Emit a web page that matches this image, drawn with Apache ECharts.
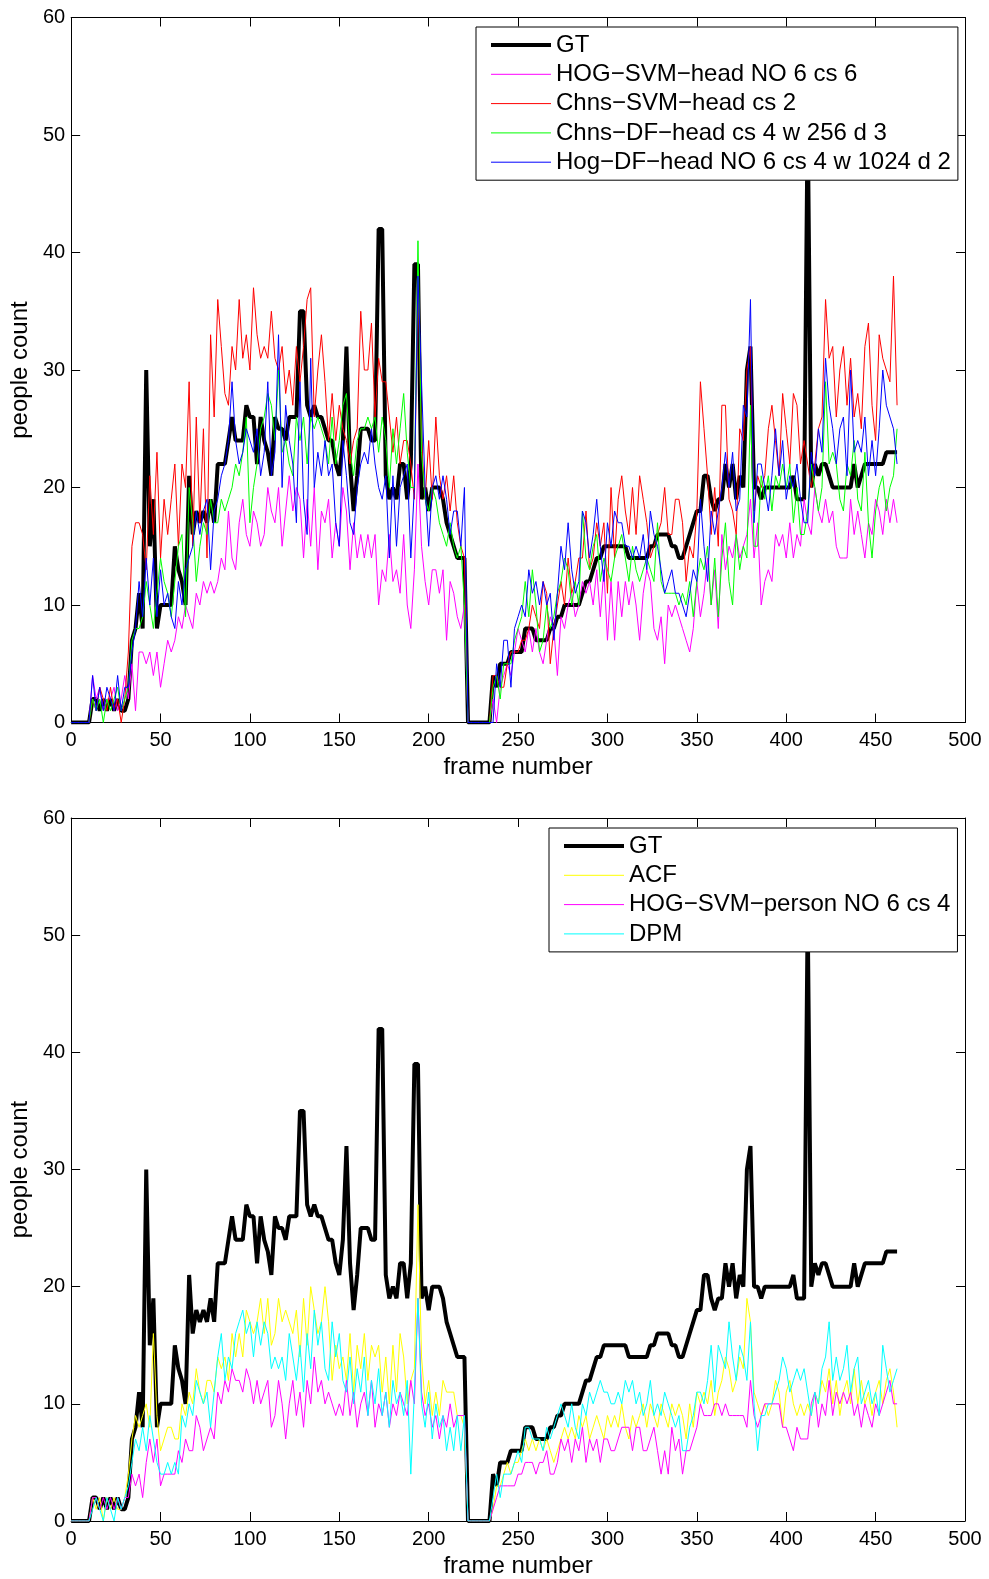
<!DOCTYPE html>
<html>
<head>
<meta charset="utf-8">
<script src="https://cdn.jsdelivr.net/npm/echarts@6/dist/echarts.min.js"></script>
<style>
html,body{margin:0;padding:0;background:#fff;}
#c{width:989px;height:1579px;}
</style>
</head>
<body>
<div id="c"></div>
<script>
// x grid: frame numbers sampled every 2 frames (0..462)
const frames = [];
for (let f = 0; f <= 462; f += 2) frames.push(f);

const xTicks = [0, 50, 100, 150, 200, 250, 300, 350, 400, 450, 500];
const yTicks = [0, 10, 20, 30, 40, 50, 60];

// Ground truth (same in both panels)
const gt = [
 0,0,0,0,0,0,
 2,2,1,2,1,2,1,2,1,1,
 2,7,8,11,8,30,15,19,8,10, 10,10,10,15,13,12,10,21,16,18, 17,18,17,19,17,22,22,22,24,26, 24,24,24,27,26,26,22,26,24,23, 21,26,25,25,24,
 26,26,26,35,35,27,26,27,26,26, 25,24,24,22,21,24,32,22,18,21, 25,25,25,24,24,42,42,21,19,20, 19,22,22,19,22,39,39,19,20,18, 20,20,20,19,17,16,15,14,14,14,
 0,0,0,0,0,0,0,
 4,3,5,5,5,6,6,6,6,8, 8,8,7,7,7,7,8,8,9,9, 10,10,10,10,10,11,12,12,13,14, 14,15,15,15,15,15,15,15,14,14, 14,14,14,14,15,15,16,16,16,16, 15,15,14,
 14,15,16,17,18,18,21,21,19,18, 19,19,22,20,22,19,21,20,30,32, 20,20,19,20,20,20,20,20,20,20, 20,21,19,19,19,52,20,22,21,22, 22,21,20,20,20,20,20,20,22,20, 21,22,22,22,22,22,22,23,23,23, 23
];

// Top panel
const hogSvmHead = [
 0,0,0,0,0,0,
 4,2,3,1,2,2,3,1,2,4,
 2,5,1,6,6,5,6,4,6,3, 5,7,6,7,9,8,10,9,8,11, 10,12,11,12,11,12,14,13,18,14, 13,17,19,16,15,18,17,15,16,20, 18,17,20,15,18,
 21,18,20,19,14,19,15,20,13,18, 17,19,14,17,15,20,18,13,17,14, 16,14,16,14,16,10,13,12,16,12, 13,11,16,10,8,13,22,15,12,10, 13,13,11,13,7,12,11,9,8,10,
 0,0,0,0,0,0,0,
 2,0,3,4,5,4,6,8,7,6, 8,6,8,6,5,7,9,8,4,9, 8,10,11,9,10,12,11,12,10,13, 9,13,7,12,7,12,9,12,10,12, 10,7,11,13,12,8,7,9,5,10, 9,10,9,
 8,7,6,8,12,9,11,14,10,13, 8,16,13,15,14,16,14,15,16,19, 14,17,10,12,13,12,16,15,16,14, 17,14,16,15,19,17,16,20,18,17, 19,17,18,15,14,14,14,19,16,18, 16,14,17,16,19,18,16,19,17,19, 17
];
const chnsSvmHead = [
 0,0,0,0,0,0,
 2,1,3,2,1,3,1,2,0,2,
 6,15,17,17,16,13,21,16,23,14, 19,16,19,22,15,22,20,29,15,26, 17,25,14,33,26,36,32,28,27,32, 30,36,31,33,30,37,33,31,32,31, 35,31,30,32,28,
 30,27,32,29,32,36,37,26,30,33, 29,24,28,24,27,25,24,22,24,25, 35,30,30,34,26,31,29,29,26,23, 26,22,24,24,22,19,38,24,19,24, 19,26,21,19,21,18,21,17,15,14,
 0,0,0,0,0,0,0,
 4,4,3,3,5,6,6,6,7,7, 8,10,9,8,12,11,5,8,10,12, 10,14,11,12,14,14,18,13,14,17, 15,17,11,20,14,19,21,18,16,20, 16,21,19,17,14,15,16,17,20,16, 16,19,19,
 17,12,15,14,18,29,25,21,16,20, 15,27,27,19,18,16,25,24,30,32, 18,21,20,21,25,27,24,21,28,25, 22,28,27,22,24,22,20,22,25,26, 36,31,32,26,30,32,27,31,26,28, 25,32,34,27,24,33,31,30,29,38, 27
];
const chnsDfHead = [
 0,0,0,0,0,0,
 2,1,2,0,2,1,2,3,1,2,
 3,7,8,8,9,12,10,8,11,14, 12,11,9,12,15,16,9,20,17,12, 15,17,16,19,17,17,19,18,19,20, 22,21,23,26,17,20,22,25,26,28, 27,24,30,23,24,
 22,21,26,24,26,22,26,25,26,25, 24,22,26,22,24,27,28,23,21,24, 25,25,26,25,26,23,26,24,20,25, 22,25,28,23,20,20,41,23,19,18, 20,19,17,16,15,17,15,14,15,10,
 0,0,0,0,0,0,0,
 3,4,2,5,5,5,7,8,9,12, 9,13,10,6,7,10,8,9,11,12, 14,13,10,12,10,18,14,13,15,16, 12,14,13,12,14,15,16,14,12,15, 13,12,13,14,13,12,17,12,11,11, 11,11,10,
 11,10,12,9,12,14,13,15,10,14, 9,14,17,12,10,16,13,15,14,27, 15,15,21,19,21,18,21,20,22,20, 22,17,20,16,16,18,22,20,18,20, 29,22,23,22,19,18,22,21,24,19, 18,23,17,14,18,20,21,18,20,21, 25
];
const hogDfHead = [
 0,0,0,0,0,0,
 4,1,3,1,3,2,1,4,1,3,
 3,6,8,12,9,14,10,14,9,13, 10,11,9,8,12,10,13,14,15,18, 16,18,19,13,18,19,21,22,24,29, 24,22,23,25,24,23,25,21,23,29, 21,23,33,20,27,
 24,22,17,29,19,16,31,20,23,21, 24,21,22,17,15,24,21,17,16,20, 22,23,22,25,22,20,19,21,14,21, 15,20,21,22,14,20,38,29,20,15, 20,21,19,21,19,16,18,18,15,20,
 0,0,0,0,0,0,0,
 0,5,3,7,7,3,8,9,10,9, 13,11,12,10,12,10,11,7,11,15, 13,17,13,11,12,18,17,14,16,19, 15,12,17,15,18,17,17,15,15,14, 15,14,16,13,18,16,15,13,11,12, 13,11,11,
 10,9,11,13,12,19,15,12,18,16, 18,20,23,20,23,18,19,27,26,36, 17,22,22,20,18,21,25,21,24,19, 21,20,22,19,17,17,23,21,25,23, 31,27,25,22,25,26,21,30,23,24, 23,26,21,24,21,25,30,27,26,25, 22
];

// Bottom panel
const acf = [
 0,0,0,0,0,0,
 2,1,2,0,2,1,2,1,1,2,
 4,7,9,8,9,10,8,16,9,6, 7,8,8,7,7,10,9,11,10,13, 11,10,12,12,11,14,13,14,12,16, 14,16,14,18,17,16,17,19,16,19, 15,16,19,17,18,
 17,16,18,14,19,15,20,18,16,17, 20,17,12,15,13,14,12,16,11,15, 13,16,12,15,14,15,11,14,10,15, 11,16,14,10,12,13,27,14,10,12, 9,11,9,12,11,11,11,9,9,8,
 0,0,0,0,0,0,0,
 1,3,3,4,5,4,5,5,6,7, 6,7,6,7,6,7,6,5,6,7, 8,7,8,7,9,8,9,7,8,9, 8,7,9,8,9,8,10,8,7,9, 8,9,10,8,10,9,8,10,9,8, 10,9,10,
 9,7,10,8,11,10,11,10,12,9, 11,12,14,13,11,12,14,13,19,17, 11,10,9,10,9,10,12,11,8,11, 12,10,9,10,9,10,9,11,10,12, 11,13,10,12,9,11,12,10,13,10, 12,10,11,9,11,12,10,12,13,11, 8
];
const hogSvmPerson = [
 0,0,0,0,0,0,
 2,2,1,2,1,2,1,2,1,2,
 2,4,3,4,2,5,7,5,7,3, 4,4,4,4,6,5,7,6,6,9, 8,6,7,8,7,11,10,12,11,13, 12,12,11,13,12,10,12,10,11,12, 8,9,12,10,7,
 10,12,9,11,8,12,10,14,11,12, 10,11,10,9,10,9,12,9,11,8, 10,11,9,12,8,10,9,11,8,10, 9,11,10,9,12,10,19,11,9,10, 8,9,7,9,8,10,8,9,9,9,
 0,0,0,0,0,0,0,
 1,2,3,3,3,3,3,4,4,5, 5,5,4,5,5,6,4,4,5,7, 6,7,5,7,6,8,5,7,6,7, 5,7,7,6,6,7,8,8,8,6, 8,8,6,6,7,8,6,4,6,4, 8,6,7,
 4,6,6,7,8,10,9,9,9,10, 10,9,10,9,9,9,9,9,8,12, 9,8,9,10,10,10,10,10,8,8, 7,6,8,7,7,7,10,11,8,10, 9,12,9,11,10,11,10,11,9,10, 8,10,9,8,10,9,10,11,12,10, 10
];
const dpm = [
 0,0,0,0,0,0,
 1,2,1,0,2,1,0,2,1,2,
 3,5,7,6,8,6,9,7,5,4, 4,5,4,5,4,9,8,10,9,12, 11,10,11,8,11,14,16,12,14,13, 16,17,18,16,17,14,17,15,17,16, 13,14,13,14,12,
 16,14,12,15,11,16,13,18,15,17, 13,12,17,14,16,12,11,14,10,13, 11,14,9,12,10,13,9,11,8,12, 10,11,9,12,4,11,19,10,8,11, 7,10,8,9,6,8,6,9,6,9,
 0,0,0,0,0,0,0,
 2,4,2,4,4,4,5,6,5,8, 8,7,7,7,6,8,7,8,9,10, 9,8,10,8,7,10,9,11,10,11, 12,11,11,10,10,11,10,12,11,12, 10,11,9,10,12,9,10,9,11,10, 9,8,9,
 6,6,8,9,11,11,10,12,15,11, 15,14,13,17,14,12,15,14,12,17, 10,6,9,9,10,10,11,12,14,13, 11,12,13,12,13,11,9,11,10,13, 14,17,12,14,12,13,15,11,13,14, 10,11,12,10,11,9,15,13,11,12, 13
];

const names = {
  gt: 'GT',
  hogHead: 'HOG\u2212SVM\u2212head NO 6 cs 6',
  chnsSvm: 'Chns\u2212SVM\u2212head cs 2',
  chnsDf: 'Chns\u2212DF\u2212head cs 4 w 256 d 3',
  hogDf: 'Hog\u2212DF\u2212head NO 6 cs 4 w 1024 d 2',
  acf: 'ACF',
  hogPerson: 'HOG\u2212SVM\u2212person NO 6 cs 4',
  dpm: 'DPM'
};

const FONT = '"Liberation Sans", Arial, Helvetica, sans-serif';
const pairs = v => frames.map((f, i) => [f, v[i]]);

const chk = {gt, hogSvmHead, chnsSvmHead, chnsDfHead, hogDfHead, acf, hogSvmPerson, dpm};
const bad = Object.keys(chk).filter(k => chk[k].length !== frames.length).map(k => k + ':' + chk[k].length);

function xAxis(gi, pos, main) {
  return {
    type: 'value', gridIndex: gi, position: pos,
    min: xTicks[0], max: xTicks[xTicks.length - 1], interval: xTicks[1] - xTicks[0],
    axisLine: {show: true, onZero: false, lineStyle: {color: '#000', width: 1}},
    axisTick: {show: true, inside: true, length: 9, lineStyle: {color: '#000', width: 1}},
    axisLabel: {show: main, color: '#000', fontSize: 20, margin: 8, fontFamily: FONT},
    splitLine: {show: false},
    name: main ? 'frame number' : '', nameLocation: 'middle', nameGap: 33,
    nameTextStyle: {fontSize: 24, color: '#000', fontFamily: FONT}
  };
}
function yAxis(gi, pos, main) {
  return {
    type: 'value', gridIndex: gi, position: pos,
    min: yTicks[0], max: yTicks[yTicks.length - 1], interval: yTicks[1] - yTicks[0],
    axisLine: {show: true, onZero: false, lineStyle: {color: '#000', width: 1}},
    axisTick: {show: true, inside: true, length: 9, lineStyle: {color: '#000', width: 1}},
    axisLabel: {show: main, color: '#000', fontSize: 20, margin: 6, fontFamily: FONT},
    splitLine: {show: false},
    name: main ? 'people count' : '', nameLocation: 'middle', nameGap: 37,
    nameTextStyle: {fontSize: 24, color: '#000', fontFamily: FONT}
  };
}
function line(name, data, color, width, gi, z) {
  return {
    type: 'line', name, data: pairs(data), xAxisIndex: gi * 2, yAxisIndex: gi * 2,
    symbol: 'none', showSymbol: false, z,
    lineStyle: {color, width}, itemStyle: {color}, animation: false
  };
}
function legendItem(name, width) {
  return {name, lineStyle: {width}, itemStyle: {opacity: 0, borderWidth: 0}};
}
function legend(left, top, data) {
  return {
    orient: 'vertical', left, top, data, selectedMode: false,
    itemWidth: 60, itemHeight: 14, itemGap: 5.3,
    padding: [6, 7, 6, 13],
    itemStyle: {opacity: 0, borderWidth: 0},
    borderColor: '#000', borderWidth: 1, backgroundColor: '#fff',
    textStyle: {fontSize: 24, color: '#000', fontFamily: FONT, lineHeight: 24}
  };
}

const chart = echarts.init(document.getElementById('c'), null, {renderer: 'canvas'});
chart.setOption({
  animation: false,
  backgroundColor: '#fff',
  grid: [
    {left: 69.5, top: 17.5, width: 895.5, height: 705},
    {left: 69.5, top: 818, width: 895.5, height: 704}
  ],
  xAxis: [xAxis(0, 'bottom', true), xAxis(0, 'top', false), xAxis(1, 'bottom', true), xAxis(1, 'top', false)],
  yAxis: [yAxis(0, 'left', true), yAxis(0, 'right', false), yAxis(1, 'left', true), yAxis(1, 'right', false)],
  legend: [
    legend(476, 27, [legendItem(names.gt, 4), legendItem(names.hogHead, 1), legendItem(names.chnsSvm, 1), legendItem(names.chnsDf, 1), legendItem(names.hogDf, 1)]),
    legend(549, 828, [legendItem(names.gt, 4), legendItem(names.acf, 1), legendItem(names.hogPerson, 1), legendItem(names.dpm, 1)])
  ],
  graphic: bad.length ? [{type: 'text', left: 100, top: 100, style: {text: 'LEN ' + bad.join(' '), fontSize: 20, fill: 'red'}}] : [],
  series: [
    line(names.gt, gt, '#000000', 4, 0, 2),
    line(names.hogHead, hogSvmHead, '#ff00ff', 1, 0, 3),
    line(names.chnsSvm, chnsSvmHead, '#ff0000', 1, 0, 3),
    line(names.chnsDf, chnsDfHead, '#00ff00', 1, 0, 3),
    line(names.hogDf, hogDfHead, '#0000ff', 1, 0, 3),
    line(names.gt, gt, '#000000', 4, 1, 2),
    line(names.acf, acf, '#ffff00', 1, 1, 3),
    line(names.hogPerson, hogSvmPerson, '#ff00ff', 1, 1, 3),
    line(names.dpm, dpm, '#00ffff', 1, 1, 3)
  ]
});
</script>
</body>
</html>
